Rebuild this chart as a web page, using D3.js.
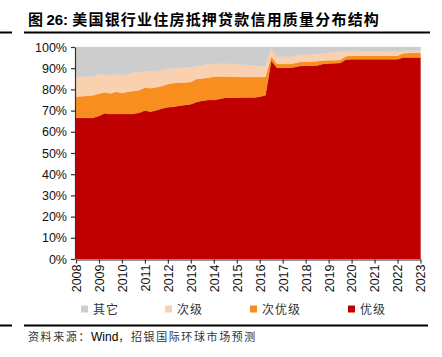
<!DOCTYPE html>
<html><head><meta charset="utf-8">
<script src="https://cdn.jsdelivr.net/npm/d3@7"></script>
<style>
body{margin:0;background:#fff;}
svg{display:block;}
</style></head>
<body>
<svg id="chart" width="442" height="357"></svg>
<script>
// quarterly data 2008Q1 .. 2023Q1 (%)
const startYear = 2008;
const tickYears = [2008,2009,2010,2011,2012,2013,2014,2015,2016,2017,2018,2019,2020,2021,2022,2023];
const seriesNames = ["其它","次级","次优级","优级"];
const prime = [66.6,66.6,66.6,66.6,67.5,68.7,68.4,68.4,68.4,68.4,68.5,69.0,70.0,69.5,70.2,71.0,71.6,71.8,72.3,72.6,73.0,74.0,74.7,75.0,75.0,75.5,76.1,76.1,76.1,76.2,76.2,76.2,76.5,77.2,93.5,90.2,90.2,90.2,90.5,91.0,91.2,91.2,91.3,92.0,92.2,92.3,92.4,94.1,94.2,94.2,94.2,94.2,94.2,94.2,94.2,94.2,94.2,95.0,95.1,95.1,95.1];
const altA = [9.9,10.2,10.4,10.6,10.5,9.9,9.7,10.5,9.9,10.4,10.8,10.6,10.9,11.0,10.8,10.6,10.9,11.2,10.9,10.7,10.5,10.9,10.5,10.5,11.0,10.6,10.0,9.9,9.8,9.6,9.6,9.6,9.3,8.6,2.1,1.8,1.8,1.8,1.8,1.9,1.9,2.0,2.0,1.6,1.5,1.5,1.5,1.5,1.7,1.7,1.7,1.7,1.7,1.7,1.7,1.7,1.7,2.1,2.1,2.1,2.1];
const subprime = [9.3,9.2,9.1,9.1,9.1,8.4,8.4,8.4,8.3,8.4,8.7,8.6,7.6,8.2,7.7,7.6,7.4,7.0,7.0,7.0,6.9,6.1,6.3,6.5,6.1,6.0,6.0,6.1,6.1,6.0,5.7,5.5,5.2,5.0,3.6,3.4,3.4,3.4,3.3,3.4,3.3,3.3,3.4,3.4,3.6,3.8,3.9,2.5,2.3,2.2,2.2,2.2,2.2,2.2,2.2,2.2,2.2,1.1,1.0,1.0,1.0];
const other = [14.2,14.0,13.9,13.7,12.9,13.0,13.5,12.7,13.4,12.8,12.0,11.8,11.5,11.3,11.3,10.8,10.1,10.0,9.8,9.7,9.6,9.0,8.5,8.0,7.9,7.9,7.9,7.9,8.0,8.2,8.5,8.7,9.0,9.2,0.8,4.6,4.6,4.6,4.4,3.7,3.6,3.5,3.3,3.0,2.7,2.4,2.2,1.9,1.8,1.9,1.9,1.9,1.9,1.9,1.9,1.9,1.9,1.8,1.8,1.8,1.8];
const yTicks = [0,10,20,30,40,50,60,70,80,90,100];

const colors = {"其它":"#cdcdcd","次级":"#f9d0b0","次优级":"#f78e1e","优级":"#c00000"};
const rows = prime.map((v,i)=>({t:startYear+i/4,"优级":v,"次优级":altA[i],"次级":subprime[i],"其它":other[i]}));

const svg = d3.select("#chart");
const x = d3.scaleLinear().domain([2008,2023]).range([76,420.5]);
const y = d3.scaleLinear().domain([0,100]).range([259,47]);

const stack = d3.stack().keys(["优级","次优级","次级","其它"]);
const layers = stack(rows);
const area = d3.area().x(d=>x(d.data.t)).y0(d=>y(d[0])).y1(d=>y(Math.min(100,d[1])));
svg.append("g").selectAll("path").data(layers).join("path")
  .attr("d",area).attr("fill",d=>colors[d.key]).attr("stroke",d=>colors[d.key]).attr("stroke-width",0.3);

// Title
const title = svg.append("text").attr("x",28).attr("y",25)
  .attr("font-family","'Noto Sans CJK SC'").attr("font-weight","bold").attr("font-size",15).attr("fill","#000");
title.append("tspan").text("图 ");
title.append("tspan").attr("font-family","'Liberation Sans',Arial").text("26: ");
title.append("tspan").attr("letter-spacing",1.2).text("美国银行业住房抵押贷款信用质量分布结构");
svg.append("line").attr("x1",0).attr("x2",12).attr("y1",32.5).attr("y2",32.5).attr("stroke","#000").attr("stroke-width",2);
svg.append("line").attr("x1",24).attr("x2",430).attr("y1",32.5).attr("y2",32.5).attr("stroke","#000").attr("stroke-width",2);

// Y axis
const yAxis = d3.axisLeft(y).tickValues(yTicks).tickFormat(d=>d+"%").tickSize(4).tickSizeOuter(0);
const gy = svg.append("g").attr("transform","translate(75,0)").call(yAxis);
gy.select(".domain").attr("stroke","#333").attr("stroke-width",1.2);
gy.selectAll(".tick line").attr("stroke","#333").attr("stroke-width",1.2);
gy.selectAll("text").attr("font-family","'Liberation Sans',Arial").attr("font-size",12.5).attr("fill","#111").attr("x",-8);

// X axis
const xAxis = d3.axisBottom(x).tickValues(tickYears).tickFormat(d3.format("d")).tickSize(4).tickSizeOuter(0);
const gx = svg.append("g").attr("transform","translate(0,259.5)").call(xAxis);
gx.select(".domain").attr("stroke","#333").attr("stroke-width",1.2);
gx.selectAll(".tick line").attr("stroke","#333").attr("stroke-width",1.2);
gx.selectAll("text").attr("font-family","'Liberation Sans',Arial").attr("font-size",12.5).attr("fill","#111")
  .attr("transform","rotate(-90)").attr("text-anchor","end").attr("x",-5).attr("y",0).attr("dy","0.35em");

// Legend
const legendX = [81,165,250,348];
const legendNames = ["其它","次级","次优级","优级"];
const lg = svg.append("g");
legendNames.forEach((n,i)=>{
  lg.append("rect").attr("x",legendX[i]).attr("y",305.5).attr("width",7).attr("height",7).attr("fill",colors[n]);
  lg.append("text").attr("x",legendX[i]+12).attr("y",313.5).text(n).attr("letter-spacing",1)
    .attr("font-family","'Noto Sans CJK SC'").attr("font-size",12).attr("fill","#333");
});

// Footer
svg.append("line").attr("x1",0).attr("x2",12).attr("y1",325.5).attr("y2",325.5).attr("stroke","#000").attr("stroke-width",2);
svg.append("line").attr("x1",24).attr("x2",428).attr("y1",325.5).attr("y2",325.5).attr("stroke","#000").attr("stroke-width",2);
const src = svg.append("text").attr("x",28).attr("y",341).attr("font-family","'Noto Sans CJK SC'").attr("font-size",11).attr("fill","#333");
src.append("tspan").attr("letter-spacing",1.6).text("资料来源：");
src.append("tspan").attr("font-family","'Liberation Sans',Arial").attr("font-size",12).attr("fill","#000").text("Wind");
src.append("tspan").attr("letter-spacing",1.6).text("，招银国际环球市场预测");
</script>
</body></html>
